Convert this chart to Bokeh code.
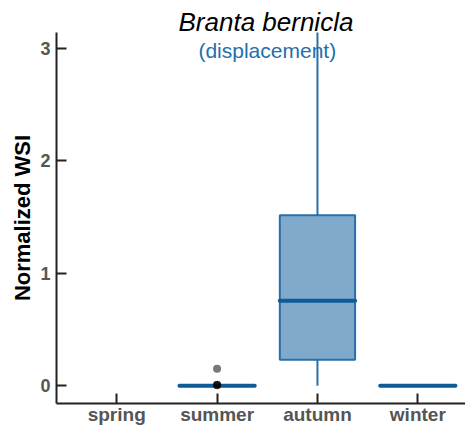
from bokeh.plotting import figure
from bokeh.models import ColumnDataSource, Range1d, FixedTicker, Label
from bokeh.embed import file_html
from bokeh.resources import INLINE
import math

# ---- data ----
categories = ["spring", "summer", "autumn", "winter"]
q1 = [math.nan, 0.0, 0.23, 0.0]
median = [math.nan, 0.0, 0.755, 0.0]
q3 = [math.nan, 0.0, 1.515, 0.0]
whisker_low = [math.nan, 0.0, 0.0, 0.0]
whisker_high = [math.nan, 0.0, 3.40, 0.0]
outlier_cat = ["summer", "summer", "summer", "summer"]
outlier_val = [0.004, 0.006, 0.008, 0.15]
y_ticks = [0, 1, 2, 3]

TITLE = "Branta bernicla"
SUBTITLE = "(displacement)"
Y_LABEL = "Normalized WSI"

# ---- layout ----
X_START, X_END = 0.40, 4.475
Y_START, Y_END = -0.158, 3.14
BOX_W = 0.75
FONT = "Liberation Sans"

pos = {c: i + 1 for i, c in enumerate(categories)}
xs = [pos[c] for c in categories]

box_src = ColumnDataSource(dict(
    x=xs, q1=q1, q3=q3, med=median, lo=whisker_low, hi=whisker_high,
    left=[x - BOX_W / 2 for x in xs], right=[x + BOX_W / 2 for x in xs],
))
out_src = ColumnDataSource(dict(x=[pos[c] for c in outlier_cat], y=outlier_val))

p = figure(width=465, height=427, output_backend="svg", toolbar_location=None,
           x_range=Range1d(X_START, X_END), y_range=Range1d(Y_START, Y_END),
           min_border_left=56, min_border_right=0, min_border_top=32, min_border_bottom=10)
p.outline_line_color = None
p.xgrid.visible = False
p.ygrid.visible = False
p.background_fill_color = "white"
p.border_fill_color = "white"

# title
p.title.text = TITLE
p.title.align = "left"
p.title.offset = 122
p.title.text_font = FONT
p.title.text_font_style = "italic"
p.title.text_font_size = "26px"
p.title.text_color = "black"
p.title.standoff = -8
p.title.text_baseline = "alphabetic"

EDGE = "#2a6fa8"
FILL = "#80aacb"
MED = "#0f5b96"

# whiskers
p.segment(x0="x", y0="q3", x1="x", y1="hi", source=box_src, line_color=EDGE, line_width=2)
p.segment(x0="x", y0="q1", x1="x", y1="lo", source=box_src, line_color=EDGE, line_width=2)
# boxes
p.quad(left="left", right="right", bottom="q1", top="q3", source=box_src,
       fill_color=FILL, line_color=EDGE, line_width=2)
# medians
p.segment(x0="left", y0="med", x1="right", y1="med", source=box_src,
          line_color=MED, line_width=4, line_cap="round")
# outliers
p.scatter(x="x", y="y", source=out_src, size=8, fill_color="black", fill_alpha=0.53,
          line_color=None)

# axes
for ax in (p.xaxis[0], p.yaxis[0]):
    ax.axis_line_color = "#222222"
    ax.axis_line_width = 2
    ax.major_tick_line_color = "#222222"
    ax.major_tick_line_width = 2
    ax.major_tick_in = 10
    ax.major_tick_out = 0
    ax.minor_tick_line_color = None
    ax.major_label_text_font = FONT
    ax.major_label_text_font_style = "bold"
    ax.major_label_text_color = "#555555"

p.yaxis.ticker = FixedTicker(ticks=y_ticks)
p.yaxis.major_label_text_font_size = "18px"
p.yaxis.major_label_standoff = 6
p.yaxis.axis_label = Y_LABEL
p.yaxis.axis_label_text_font = FONT
p.yaxis.axis_label_text_font_style = "bold"
p.yaxis.axis_label_text_font_size = "22px"
p.yaxis.axis_label_text_color = "black"
p.yaxis.axis_label_standoff = 2

p.xaxis.ticker = FixedTicker(ticks=xs)
p.xaxis.major_label_overrides = {x: c for x, c in zip(xs, categories)}
p.xaxis.major_label_text_font_size = "19px"
p.xaxis.major_label_standoff = 0

mid_x = sum(xs) / len(xs)
p.add_layout(Label(x=mid_x, y=Y_END, text=SUBTITLE, text_align="center",
                   text_baseline="alphabetic", text_font=FONT,
                   text_font_size="21px", text_color="#1f6fad", y_offset=-18))

open("out.html", "w").write(file_html(p, INLINE))
